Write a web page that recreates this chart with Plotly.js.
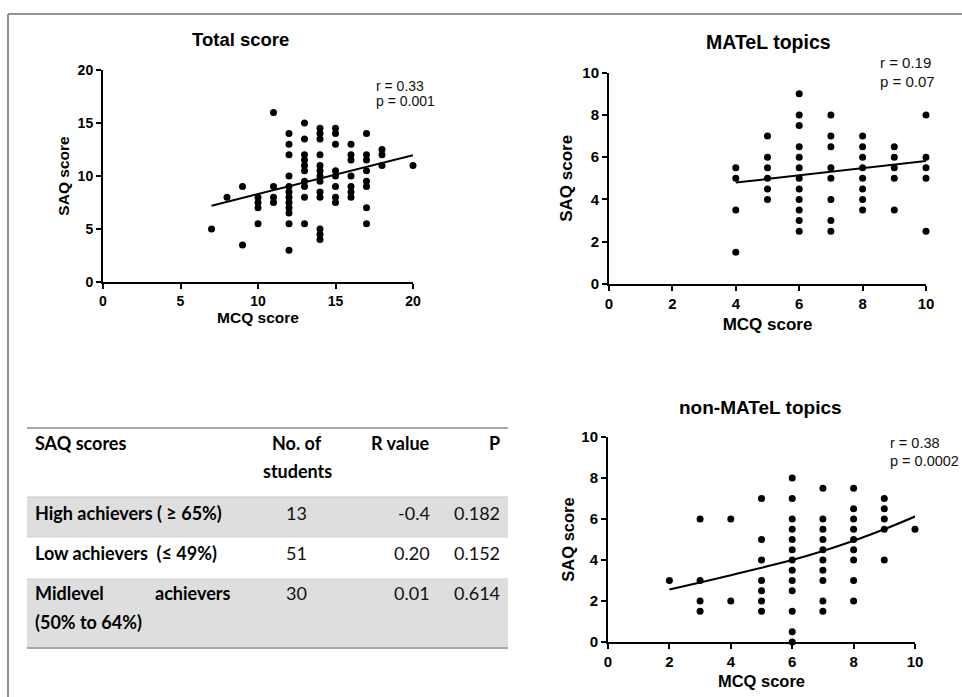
<!DOCTYPE html>
<html>
<head>
<meta charset="utf-8">
<script src="https://cdn.plot.ly/plotly-3.0.1.min.js"></script>
<style>
  html, body { margin: 0; padding: 0; background: #ffffff; }
  #chart { width: 962px; height: 697px; }
</style>
</head>
<body>
<div id="chart"></div>
<script>
// ---------- DATA ----------
// Total score panel
const totalMCQ = [7, 8, 9, 9, 10, 10, 10, 10, 11, 11, 11, 11,
  12, 12, 12, 12, 12, 12, 12, 12, 12, 12, 12, 12,
  13, 13, 13, 13, 13, 13, 13, 13, 13, 13,
  14, 14, 14, 14, 14, 14, 14, 14, 14, 14, 14, 14, 14,
  15, 15, 15, 15, 15, 15, 15, 15,
  16, 16, 16, 16, 16, 16, 16,
  17, 17, 17, 17, 17, 17, 17, 17,
  18, 18, 18, 20];
const totalSAQ = [5, 8, 9, 3.5, 8, 7.5, 7, 5.5, 16, 9, 8, 7.5,
  14, 13, 12, 10, 9, 8.5, 8, 7.5, 7, 6.5, 5.5, 3,
  15, 13.5, 12, 11.5, 11, 10.5, 9.5, 9, 8, 5.5,
  14.5, 14, 13.5, 12, 11, 10.5, 10, 9.5, 8.5, 8, 5, 4.5, 4,
  14.5, 14, 13, 10.5, 10, 9, 8, 7.5,
  13, 12, 11.5, 10, 9, 8.5, 8,
  14, 12, 11.5, 10.5, 9.5, 9, 7, 5.5,
  12.5, 12, 11, 11];
const totalFitX = [7, 20];
const totalFitY = [7.2, 11.95];
const totalStats = ['r = 0.33', 'p = 0.001'];

// MATeL topics panel
const matelMCQ = [4, 4, 4, 4,
  5, 5, 5, 5, 5, 5,
  6, 6, 6, 6, 6, 6, 6, 6, 6, 6, 6, 6,
  7, 7, 7, 7, 7, 7, 7, 7,
  8, 8, 8, 8, 8, 8, 8, 8,
  9, 9, 9, 9, 9,
  10, 10, 10, 10, 10];
const matelSAQ = [5.5, 5, 3.5, 1.5,
  7, 6, 5.5, 5, 4.5, 4,
  9, 8, 7.5, 6.5, 6, 5.5, 5, 4.5, 4, 3.5, 3, 2.5,
  8, 7, 6.5, 5.5, 5, 4, 3, 2.5,
  7, 6.5, 6, 5.5, 5, 4.5, 4, 3.5,
  6.5, 6, 5.5, 5, 3.5,
  8, 6, 5.5, 5, 2.5];
const matelFitX = [4, 10];
const matelFitY = [4.8, 5.82];
const matelStats = ['r = 0.19', 'p = 0.07'];

// non-MATeL topics panel
const nonMatelMCQ = [2,
  3, 3, 3, 3,
  4, 4,
  5, 5, 5, 5, 5, 5, 5,
  6, 6, 6, 6, 6, 6, 6, 6, 6, 6, 6, 6, 6,
  7, 7, 7, 7, 7, 7, 7, 7, 7, 7,
  8, 8, 8, 8, 8, 8, 8, 8, 8,
  9, 9, 9, 9, 9,
  10];
const nonMatelSAQ = [3,
  6, 3, 2, 1.5,
  6, 2,
  7, 5, 4, 3, 2.5, 2, 1.5,
  8, 7, 6, 5.5, 5, 4.5, 4, 3.5, 3, 2.5, 1.5, 0.5, 0,
  7.5, 6, 5.5, 5, 4.5, 4, 3.5, 3, 2, 1.5,
  7.5, 6.5, 6, 5.5, 5, 4.5, 4, 3, 2,
  7, 6.5, 6, 5.5, 4,
  5.5];
const nonMatelFitX = [2, 3, 4, 5, 6, 7, 8, 9, 10];
const nonMatelFitY = [2.56, 2.9, 3.26, 3.62, 4.0, 4.44, 4.94, 5.5, 6.12];
const nonMatelStats = ['r = 0.38', 'p = 0.0002'];

const panelTitles = ['Total score', 'MATeL topics', 'non-MATeL topics'];
const xAxisLabel = 'MCQ score';
const yAxisLabel = 'SAQ score';

// Table
const tableHeaders = ['SAQ scores', 'No. of<br>students', 'R value', 'P'];
const rowLabels = ['High achievers ( \u2265 65%)', 'Low achievers  (\u2264 49%)', 'Midlevel achievers (50% to 64%)'];
const nStudents = ['13', '51', '30'];
const rValues = ['-0.4', '0.20', '0.01'];
const pValues = ['0.182', '0.152', '0.614'];

// ---------- LAYOUT HELPERS ----------
const W = 962, H = 697;
const X = px => px / W;
const Y = py => 1 - py / H;
const chartFont = 'Liberation Sans, Arial, sans-serif';
const tableFont = 'Lato, Carlito, Calibri, sans-serif';

function axisBase(range, dtick, domain, anchor, title, standoff, tsize, lsize) {
  return {
    range: range, dtick: dtick, tick0: 0, domain: domain, anchor: anchor,
    showline: true, linecolor: '#000', linewidth: 2,
    ticks: 'outside', ticklen: 5, tickwidth: 2, tickcolor: '#000',
    showgrid: false, zeroline: false, fixedrange: true,
    tickfont: {family: chartFont, size: lsize, color: '#000', weight: 'bold'},
    title: {text: title, standoff: standoff, font: {family: chartFont, size: tsize, color: '#000', weight: 'bold'}},
    automargin: false
  };
}

const marker = {color: '#000', size: 7};
const fitLine = {color: '#000', width: 2};

const data = [
  {x: totalMCQ, y: totalSAQ, type: 'scatter', mode: 'markers', marker: marker, xaxis: 'x', yaxis: 'y', cliponaxis: false, hoverinfo: 'skip'},
  {x: totalFitX, y: totalFitY, type: 'scatter', mode: 'lines', line: fitLine, xaxis: 'x', yaxis: 'y', hoverinfo: 'skip'},
  {x: matelMCQ, y: matelSAQ, type: 'scatter', mode: 'markers', marker: marker, xaxis: 'x2', yaxis: 'y2', cliponaxis: false, hoverinfo: 'skip'},
  {x: matelFitX, y: matelFitY, type: 'scatter', mode: 'lines', line: fitLine, xaxis: 'x2', yaxis: 'y2', hoverinfo: 'skip'},
  {x: nonMatelMCQ, y: nonMatelSAQ, type: 'scatter', mode: 'markers', marker: marker, xaxis: 'x3', yaxis: 'y3', cliponaxis: false, hoverinfo: 'skip'},
  {x: nonMatelFitX, y: nonMatelFitY, type: 'scatter', mode: 'lines', line: Object.assign({shape: 'spline'}, fitLine), xaxis: 'x3', yaxis: 'y3', hoverinfo: 'skip'}
];

const annotations = [];
const shapes = [];

function addText(text, px, py, opts) {
  annotations.push(Object.assign({
    text: text, x: X(px), y: Y(py), xref: 'paper', yref: 'paper',
    showarrow: false, xanchor: 'center', yanchor: 'middle',
    font: {family: chartFont, size: 13, color: '#000'}
  }, opts || {}));
}

// panel titles
addText(panelTitles[0], 240, 40, {font: {family: chartFont, size: 18.5, color: '#000', weight: 'bold'}});
addText(panelTitles[1], 768, 42, {font: {family: chartFont, size: 19.5, color: '#000', weight: 'bold'}});
addText(panelTitles[2], 760, 407, {font: {family: chartFont, size: 19, color: '#000', weight: 'bold'}});

// r / p statistics
const statFont = {family: chartFont, size: 14, color: '#111'};
addText(totalStats[0], 374, 86, {xanchor: 'left', font: statFont});
addText(totalStats[1], 374, 101, {xanchor: 'left', font: statFont});
addText(matelStats[0], 878, 62, {xanchor: 'left', font: {family: chartFont, size: 15, color: '#111'}});
addText(matelStats[1], 878, 81, {xanchor: 'left', font: {family: chartFont, size: 15, color: '#111'}});
addText(nonMatelStats[0], 888, 443, {xanchor: 'left', font: {family: chartFont, size: 14.5, color: '#111'}});
addText(nonMatelStats[1], 888, 461, {xanchor: 'left', font: {family: chartFont, size: 14.5, color: '#111'}});

// frame lines
shapes.push({type: 'line', xref: 'paper', yref: 'paper', x0: X(8), x1: 1, y0: Y(14), y1: Y(14), line: {color: '#6e6e6e', width: 1.5}});
shapes.push({type: 'line', xref: 'paper', yref: 'paper', x0: X(8), x1: X(8), y0: Y(14), y1: 0, line: {color: '#6e6e6e', width: 1.5}});

// ---------- TABLE ----------
const tL = 27, tR = 508;
const rowBounds = [[428, 497], [497, 537], [537, 579], [579, 648]];
const rowFill = ['#ffffff', '#dedede', '#ffffff', '#dedede'];
rowBounds.forEach((b, i) => {
  shapes.push({type: 'rect', xref: 'paper', yref: 'paper', x0: X(tL), x1: X(tR), y0: Y(b[1]), y1: Y(b[0]), fillcolor: rowFill[i], line: {width: 0}, layer: 'below'});
});
[[497, '#c4c4c4', 1], [537, '#d0d0d0', 1], [579, '#d0d0d0', 1]].forEach(l => {
  shapes.push({type: 'line', xref: 'paper', yref: 'paper', x0: X(tL), x1: X(tR), y0: Y(l[0]), y1: Y(l[0]), line: {color: l[1], width: l[2]}});
});
shapes.push({type: 'line', xref: 'paper', yref: 'paper', x0: X(tL), x1: X(tR), y0: Y(428), y1: Y(428), line: {color: '#a8a8a8', width: 2}});
shapes.push({type: 'line', xref: 'paper', yref: 'paper', x0: X(tL), x1: X(tR), y0: Y(648), y1: Y(648), line: {color: '#a8a8a8', width: 2}});

const tBold = {family: tableFont, size: 18, color: '#000', weight: 'bold'};
const tReg = {family: tableFont, size: 18, color: '#111'};
// header
addText(tableHeaders[0], 33, 443, {xanchor: 'left', font: tBold});
const hdr2 = tableHeaders[1].split('<br>');
addText(hdr2[0], 297, 443, {font: tBold});
addText(hdr2[1], 297, 471, {font: tBold});
addText(tableHeaders[2], 432, 443, {xanchor: 'right', font: tBold});
addText(tableHeaders[3], 502, 443, {xanchor: 'right', font: tBold});
// body rows
const rowY = [513, 553, 593];
for (let i = 0; i < rowLabels.length; i++) {
  if (i === 2) {
    const words = rowLabels[i].split(' ');
    addText(words[0], 33, rowY[i], {xanchor: 'left', font: tBold});
    addText(words[1], 232, rowY[i], {xanchor: 'right', font: tBold});
    addText(words.slice(2).join(' '), 33, rowY[i] + 29, {xanchor: 'left', font: tBold});
  } else {
    addText(rowLabels[i].replace('  ', '&nbsp; '), 33, rowY[i], {xanchor: 'left', font: tBold});
  }
  addText(nStudents[i], 296, rowY[i], {font: tReg});
  addText(rValues[i], 432, rowY[i], {xanchor: 'right', font: tReg});
  addText(pValues[i], 502, rowY[i], {xanchor: 'right', font: tReg});
}

const layout = {
  width: W, height: H,
  margin: {l: 0, r: 0, t: 0, b: 0},
  paper_bgcolor: '#ffffff', plot_bgcolor: 'rgba(0,0,0,0)',
  showlegend: false,
  font: {family: chartFont, color: '#000'},
  xaxis: axisBase([0, 20], 5, [X(103), X(413)], 'y', xAxisLabel, 3, 15.5, 14),
  yaxis: axisBase([0, 20], 5, [Y(282), Y(70)], 'x', yAxisLabel, 4, 15.5, 14),
  xaxis2: axisBase([0, 10], 2, [X(609), X(926)], 'y2', xAxisLabel, 7, 17, 15),
  yaxis2: axisBase([0, 10], 2, [Y(284), Y(72.7)], 'x2', yAxisLabel, 5, 17, 15),
  xaxis3: axisBase([0, 10], 2, [X(608), X(915)], 'y3', xAxisLabel, 6, 16.5, 15),
  yaxis3: axisBase([0, 10], 2, [Y(642), Y(437)], 'x3', yAxisLabel, 3, 16.5, 15),
  annotations: annotations,
  shapes: shapes
};

Plotly.newPlot('chart', data, layout, {displayModeBar: false, staticPlot: true});
</script>
</body>
</html>
